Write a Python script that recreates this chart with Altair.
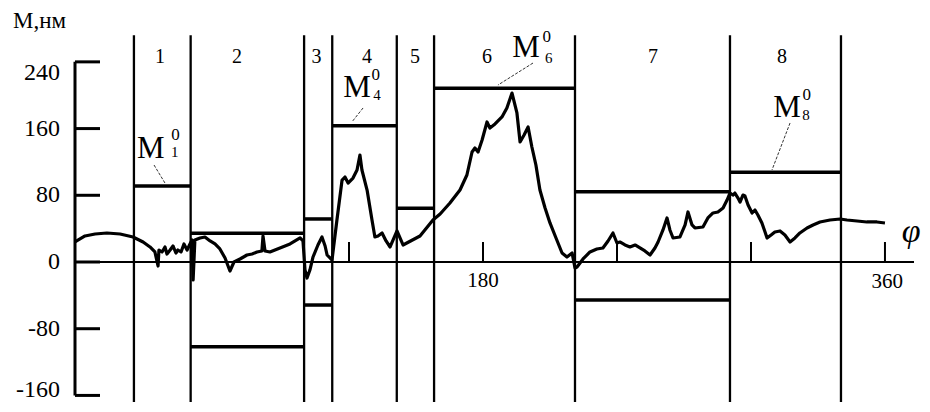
import altair as alt
import pandas as pd

# ---- data ----
phi = [-2.7, 1.8, 6.3, 11.6, 17.5, 23.3, 27.8, 30.9, 33.1, 34.5, 34.9, 36.3, 37.6, 38.5, 39.9, 41.2, 42.5, 43.4, 44.8, 46.1, 47.5, 48.8,
       49.7, 50.2, 51.0, 53.3, 55.5, 57.8, 60.0, 62.2, 64.5, 66.7, 68.5, 71.2, 74.3, 76.6, 78.8, 81.0, 81.5, 82.4, 84.6, 89.1, 93.6, 98.1, 99.4,
       100.3, 101.2, 102.5, 103.9, 106.1, 107.9, 109.3, 110.2, 111.5, 112.4,
       114.6, 116.9, 118.2, 119.6, 121.8, 123.6, 124.9, 125.8, 128.1, 130.3, 131.6, 133.0, 134.8, 136.6, 138.4, 141.5, 144.2, 151.8,
       157.6, 160.8, 165.2, 169.7, 172.8, 175.1, 176.4, 177.8, 179.6, 181.8, 183.1, 185.4, 188.5, 190.7, 193.0, 195.2, 196.6, 198.4, 200.2,
       201.9, 203.7, 205.5, 207.8, 210.0, 212.7, 215.4, 217.6, 219.9, 221.2,
       222.1, 224.8, 227.9, 231.0, 233.7, 236.0, 238.2, 240.0, 241.3, 243.6, 245.8, 248.1, 250.3, 252.5, 254.8, 257.0, 258.4, 260.6, 262.4,
       263.7, 265.1, 268.2, 270.5, 271.8, 273.6, 274.9, 278.5, 280.7, 283.0, 285.2, 287.5, 289.3, 290.6,
       291.9, 292.8, 294.2, 295.1, 296.4, 297.3, 298.7, 300.5, 301.8, 303.1, 304.9, 306.3, 307.2, 309.0, 310.7, 313.0, 315.2, 317.5, 319.7,
       321.9, 325.1, 327.8, 330.9, 335.4, 339.9, 343.0, 347.5, 351.9, 356.4, 360.0]
moment = [24.0, 31.2, 33.6, 34.8, 33.6, 30.0, 24.0, 18.0, 12.0, -4.8, 14.4, 12.0, 18.0, 9.6, 14.4, 19.2, 10.8, 14.4, 12.0, 21.6, 14.4, 21.6,
          26.4, -21.6, 26.4, 28.8, 30.0, 25.2, 21.6, 15.6, 4.8, -10.8, 0.0, 3.6, 8.4, 9.6, 12.0, 13.2, 31.2, 13.2, 12.0, 16.8, 21.6, 28.8, 25.2,
          -9.6, -19.2, -9.6, 6.0, 20.4, 30.0, 19.2, 8.4, 4.8, 2.4,
          50.4, 98.3, 101.9, 94.7, 100.7, 110.3, 128.3, 110.3, 86.3, 50.4, 30.0, 31.2, 34.8, 25.2, 18.0, 37.2, 20.4, 31.2,
          50.4, 57.6, 70.7, 86.3, 104.3, 131.9, 136.7, 131.9, 146.3, 167.9, 160.7, 165.5, 173.9, 184.6, 202.6, 178.7, 143.9, 152.3, 161.9,
          137.9, 116.3, 86.3, 64.7, 46.8, 28.8, 10.8, 6.0, 10.8, -7.2,
          -6.0, 3.6, 12.0, 15.6, 16.8, 25.2, 34.8, 22.8, 24.0, 20.4, 18.0, 20.4, 16.8, 13.2, 8.4, 16.8, 24.0, 38.4, 52.8,
          38.4, 28.8, 30.0, 44.4, 60.0, 44.4, 40.8, 42.0, 52.8, 58.8, 60.0, 64.7, 74.3, 82.7,
          80.3, 82.7, 76.7, 71.9, 80.3, 79.1, 68.3, 58.8, 62.3, 56.4, 46.8, 36.0, 28.8, 32.4, 36.0, 37.2, 32.4, 24.0, 28.8,
          34.8, 40.8, 44.4, 48.0, 50.4, 51.6, 50.4, 49.2, 48.0, 48.0, 46.8]

zone_bounds = [23.7, 49.1, 99.9, 112.5, 141.4, 158.1, 221.2, 290.6, 340.3]
zone_upper = [91.0, 34.4, 51.6, 163.4, 64.4, 208.3, 84.3, 107.6]
zone_lower = [None, -101.6, -51.6, None, None, None, -45.6, None]
zone_names = ["1", "2", "3", "4", "5", "6", "7", "8"]
zone_label_x = [35.4, 69.9, 105.5, 128.1, 149.6, 181.8, 256.1, 313.9]

y_ticks = [-160, -80, 0, 80, 160, 240]
y_label_pos = [-154, -80, 0, 80, 160, 227]
x_ticks = [120, 180, 240, 300, 360]
x_tick_labels = ["180", "360"]

ann_index = ["1", "4", "6", "8"]
ann_m_x = [31.3, 123.6, 199.3, 316.1]
ann_m_y = [124.7, 197.8, 245.8, 173.9]
ann_sup_x = [42.3, 132.0, 208.6, 325.0]
ann_sup_y = [146.3, 218.2, 263.8, 194.2]
ann_sub_x = [42.0, 132.5, 209.5, 324.6]
ann_sub_y = [125.9, 194.2, 238.6, 170.3]
lead_x1 = [32.7, 126.3, 202.4, 317.5]
lead_y1 = [116.3, 184.7, 238.6, 166.7]
lead_x2 = [37.6, 121.3, 186.7, 309.4]
lead_y2 = [94.7, 167.9, 212.2, 110.3]

# ---- scales ----
PLOT_H = 382
X0, X1 = -2.687, 373.0
Y1 = 290.2
Y0 = Y1 - PLOT_H / 0.8339
xs = alt.Scale(domain=[X0, X1], nice=False, zero=False)
ys = alt.Scale(domain=[Y0, Y1], nice=False, zero=False)
FONT = "'Liberation Serif', 'Times New Roman', 'DejaVu Serif', serif"


def X(f="x"):
    return alt.X(f"{f}:Q", scale=xs, axis=None)


def Y(f="y"):
    return alt.Y(f"{f}:Q", scale=ys, axis=None)


# vertical zone boundaries
vdf = pd.DataFrame({"x": zone_bounds, "y": [Y0] * len(zone_bounds), "y2": [272.0] * len(zone_bounds)})
vlines = alt.Chart(vdf).mark_rule(color="black", strokeWidth=2.3).encode(x=X(), y=Y(), y2="y2:Q")

# step levels
steps = []
for i in range(8):
    steps.append({"x": zone_bounds[i], "x2": zone_bounds[i + 1], "y": zone_upper[i]})
    if zone_lower[i] is not None:
        steps.append({"x": zone_bounds[i], "x2": zone_bounds[i + 1], "y": zone_lower[i]})
sdf = pd.DataFrame(steps)
step_rules = alt.Chart(sdf).mark_rule(color="black", strokeWidth=3.5).encode(x=X(), x2="x2:Q", y=Y())

# zero axis line
zdf = pd.DataFrame({"x": [X0], "x2": [X1], "y": [0]})
zero_line = alt.Chart(zdf).mark_rule(color="black", strokeWidth=2).encode(x=X(), x2="x2:Q", y=Y())

# y axis
yadf = pd.DataFrame({"x": [X0], "y": [min(y_ticks)], "y2": [max(y_ticks)]})
y_axis = alt.Chart(yadf).mark_rule(color="black", strokeWidth=3).encode(x=X(), y=Y(), y2="y2:Q")
ytdf = pd.DataFrame({"x": [X0] * len(y_ticks), "x2": [8.5] * len(y_ticks), "y": y_ticks})
y_tick_marks = alt.Chart(ytdf).mark_rule(color="black", strokeWidth=3).encode(x=X(), x2="x2:Q", y=Y())
yldf = pd.DataFrame({"x": [-9.4] * len(y_ticks), "y": y_label_pos, "t": [str(v) for v in y_ticks]})
y_labels = alt.Chart(yldf).mark_text(font=FONT, fontSize=24, align="right", baseline="middle", color="black").encode(
    x=X(), y=Y(), text="t:N")

# x ticks
xtdf = pd.DataFrame({"x": x_ticks, "y": [0] * len(x_ticks), "y2": [24] * len(x_ticks)})
x_tick_marks = alt.Chart(xtdf).mark_rule(color="black", strokeWidth=2).encode(x=X(), y=Y(), y2="y2:Q")
xldf = pd.DataFrame({"x": [180, 361], "y": [-23, -24], "t": x_tick_labels})
x_labels = alt.Chart(xldf).mark_text(font=FONT, fontSize=21, align="center", baseline="middle", color="black").encode(
    x=X(), y=Y(), text="t:N")

# curve
cdf = pd.DataFrame({"x": phi, "y": moment})
curve = alt.Chart(cdf).mark_line(color="black", strokeWidth=3.2, strokeJoin="round").encode(x=X(), y=Y(), order="x:Q")

# zone labels
zldf = pd.DataFrame({"x": zone_label_x, "y": [246] * 8, "t": zone_names})
zone_labels = alt.Chart(zldf).mark_text(font=FONT, fontSize=20, align="center", baseline="middle", color="black").encode(
    x=X(), y=Y(), text="t:N")

# annotations M_i^0
mdf = pd.DataFrame({"x": ann_m_x, "y": ann_m_y, "t": ["M"] * 4})
ann_m = alt.Chart(mdf).mark_text(font=FONT, fontSize=31, align="center", baseline="alphabetic", color="black").encode(
    x=X(), y=Y(), text="t:N")
supdf = pd.DataFrame({"x": ann_sup_x, "y": ann_sup_y, "t": ["0"] * 4})
ann_sup = alt.Chart(supdf).mark_text(font=FONT, fontSize=17, align="center", baseline="alphabetic", color="black").encode(
    x=X(), y=Y(), text="t:N")
subdf = pd.DataFrame({"x": ann_sub_x, "y": ann_sub_y, "t": ann_index})
ann_sub = alt.Chart(subdf).mark_text(font=FONT, fontSize=15, align="center", baseline="alphabetic", color="black").encode(
    x=X(), y=Y(), text="t:N")
ldf = pd.DataFrame({"x": lead_x1, "y": lead_y1, "x2": lead_x2, "y2": lead_y2})
leaders = alt.Chart(ldf).mark_rule(color="#333333", strokeWidth=1, strokeDash=[3, 1.5]).encode(
    x=X(), y=Y(), x2="x2:Q", y2="y2:Q")

# axis titles
tdf = pd.DataFrame({"x": [-30.4], "y": [281.0], "t": ["M,нм"]})
y_title = alt.Chart(tdf).mark_text(font=FONT, fontSize=23, align="left", baseline="alphabetic", color="black").encode(
    x=X(), y=Y(), text="t:N")
pdf_ = pd.DataFrame({"x": [367.5], "y": [36], "t": ["φ"]})
phi_title = alt.Chart(pdf_).mark_text(font=FONT, fontSize=34, fontStyle="italic", align="left", baseline="middle",
                                      color="black").encode(x=X(), y=Y(), text="t:N")

chart = alt.layer(
    vlines, step_rules, zero_line, y_axis, y_tick_marks, y_labels, x_tick_marks, x_labels,
    curve, zone_labels, ann_m, ann_sup, ann_sub, leaders, y_title, phi_title
).properties(
    width=839, height=PLOT_H,
    autosize=alt.AutoSizeParams(type="none"),
    padding={"left": 67, "top": 12, "right": 8, "bottom": 0},
    background="white",
).configure_view(stroke=None)

chart.save("out.html", embed_options={"renderer": "svg", "actions": False})
